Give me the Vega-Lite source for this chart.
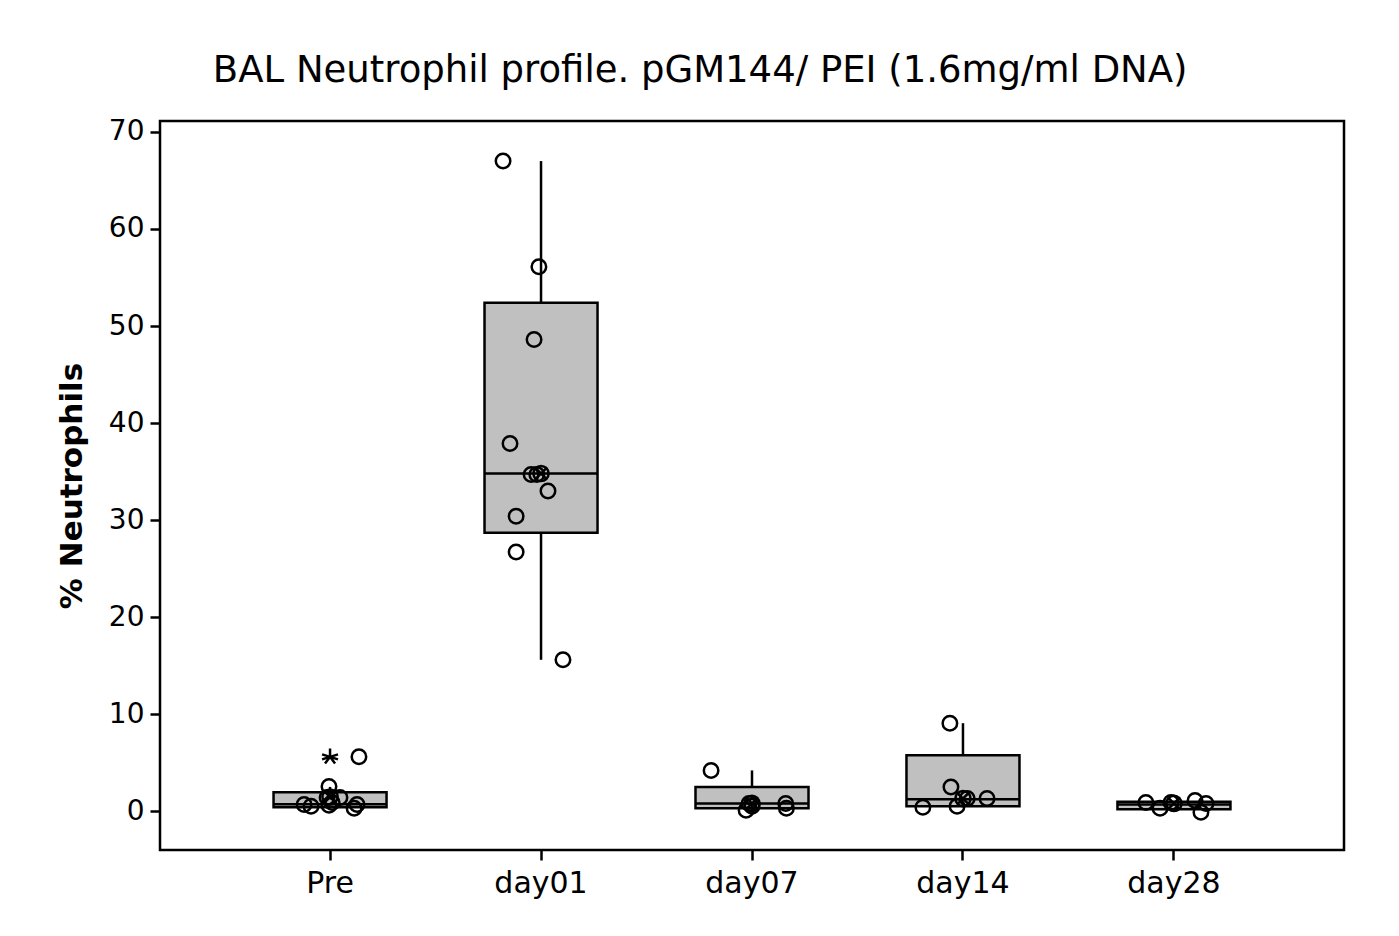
{
  "$schema": "https://vega.github.io/schema/vega-lite/v6.json",
  "autosize": {"type": "none"},
  "width": 1184,
  "height": 729,
  "padding": {"left": 160, "top": 121, "right": 55, "bottom": 86},
  "background": "white",
  "config": {
    "view": {"stroke": "black", "strokeWidth": 2.5},
    "font": "DejaVu Sans",
    "axis": {"grid": false, "domain": false, "tickColor": "black", "tickWidth": 2.5, "tickSize": 10, "labelColor": "black", "labelFontSize": 28, "labelFont": "DejaVu Sans", "titleColor": "black"}
  },
  "title": {"text": "BAL Neutrophil profile. pGM144/ PEI (1.6mg/ml DNA)", "fontSize": 37, "fontWeight": 500, "font": "DejaVu Sans", "color": "black", "anchor": "middle", "frame": "bounds", "offset": 28},
  "datasets": {
    "boxes": [
      {"cat": "Pre", "lo": 0.41, "q1": 0.41, "median": 0.72, "q3": 1.96, "hi": 2.5},
      {"cat": "day01", "lo": 15.6, "q1": 28.7, "median": 34.8, "q3": 52.4, "hi": 67.0},
      {"cat": "day07", "lo": 0.3, "q1": 0.3, "median": 0.8, "q3": 2.5, "hi": 4.2},
      {"cat": "day14", "lo": 0.5, "q1": 0.5, "median": 1.24, "q3": 5.77, "hi": 9.07},
      {"cat": "day28", "lo": 0.2, "q1": 0.2, "median": 0.7, "q3": 0.96, "hi": 0.96}
    ],
    "points": [
      {"cat": "Pre", "jitter": -0.123, "value": 0.7},
      {"cat": "Pre", "jitter": -0.09, "value": 0.5},
      {"cat": "Pre", "jitter": -0.005, "value": 2.55},
      {"cat": "Pre", "jitter": -0.014, "value": 1.4},
      {"cat": "Pre", "jitter": -0.005, "value": 0.6},
      {"cat": "Pre", "jitter": 0.01, "value": 0.9},
      {"cat": "Pre", "jitter": 0.047, "value": 1.4},
      {"cat": "Pre", "jitter": 0.114, "value": 0.3},
      {"cat": "Pre", "jitter": 0.128, "value": 0.7},
      {"cat": "Pre", "jitter": 0.137, "value": 5.6},
      {"cat": "day01", "jitter": -0.18, "value": 67.0},
      {"cat": "day01", "jitter": -0.01, "value": 56.1},
      {"cat": "day01", "jitter": -0.033, "value": 48.6},
      {"cat": "day01", "jitter": -0.147, "value": 37.9},
      {"cat": "day01", "jitter": -0.047, "value": 34.7},
      {"cat": "day01", "jitter": -0.02, "value": 34.7},
      {"cat": "day01", "jitter": 0.033, "value": 33.0},
      {"cat": "day01", "jitter": -0.118, "value": 30.4},
      {"cat": "day01", "jitter": -0.118, "value": 26.7},
      {"cat": "day01", "jitter": 0.104, "value": 15.6},
      {"cat": "day07", "jitter": -0.194, "value": 4.2},
      {"cat": "day07", "jitter": -0.014, "value": 0.8},
      {"cat": "day07", "jitter": -0.028, "value": 0.1},
      {"cat": "day07", "jitter": 0.0, "value": 0.5},
      {"cat": "day07", "jitter": 0.16, "value": 0.8},
      {"cat": "day07", "jitter": 0.163, "value": 0.3},
      {"cat": "day14", "jitter": -0.062, "value": 9.07},
      {"cat": "day14", "jitter": -0.057, "value": 2.5},
      {"cat": "day14", "jitter": -0.19, "value": 0.4},
      {"cat": "day14", "jitter": -0.028, "value": 0.5},
      {"cat": "day14", "jitter": 0.02, "value": 1.3},
      {"cat": "day14", "jitter": 0.114, "value": 1.3},
      {"cat": "day28", "jitter": -0.133, "value": 0.9},
      {"cat": "day28", "jitter": -0.066, "value": 0.3},
      {"cat": "day28", "jitter": -0.014, "value": 0.9},
      {"cat": "day28", "jitter": 0.1, "value": 1.1},
      {"cat": "day28", "jitter": 0.152, "value": 0.8},
      {"cat": "day28", "jitter": 0.128, "value": -0.1}
    ],
    "means": [
      {"cat": "Pre", "mean": 1.46},
      {"cat": "day01", "mean": 34.8},
      {"cat": "day07", "mean": 0.8},
      {"cat": "day14", "mean": 1.3},
      {"cat": "day28", "mean": 0.8}
    ],
    "outliers": [
      {"cat": "Pre", "value": 5.6}
    ]
  },
  "encoding": {
    "x": {"field": "cat", "type": "nominal", "sort": ["Pre", "day01", "day07", "day14", "day28"],
      "scale": {"domain": ["Pre", "day01", "day07", "day14", "day28"], "paddingInner": 0, "paddingOuter": 0.306},
      "axis": {"title": null, "labelAngle": 0, "labelPadding": 8, "labelFontSize": 30}}
  },
  "layer": [
    {
      "data": {"name": "boxes"},
      "mark": {"type": "rule", "color": "black", "strokeWidth": 2.5},
      "encoding": {
        "y": {"field": "q3", "type": "quantitative", "scale": {"domain": [-4.0, 71.13], "nice": false, "zero": false},
          "axis": {"title": "% Neutrophils", "values": [0, 10, 20, 30, 40, 50, 60, 70], "labelPadding": 6, "titleFontSize": 31, "titleFontWeight": "bold", "titlePadding": 20}},
        "y2": {"field": "hi"}
      }
    },
    {
      "data": {"name": "boxes"},
      "mark": {"type": "rule", "color": "black", "strokeWidth": 2.5},
      "encoding": {
        "y": {"field": "lo", "type": "quantitative"},
        "y2": {"field": "q1"}
      }
    },
    {
      "data": {"name": "boxes"},
      "mark": {"type": "bar", "fill": "#c0c0c0", "stroke": "black", "strokeWidth": 2.5, "size": 113},
      "encoding": {
        "y": {"field": "q1", "type": "quantitative"},
        "y2": {"field": "q3"}
      }
    },
    {
      "data": {"name": "boxes"},
      "mark": {"type": "tick", "color": "black", "thickness": 2.5, "size": 113, "opacity": 1},
      "encoding": {
        "y": {"field": "median", "type": "quantitative"}
      }
    },
    {
      "data": {"name": "points"},
      "mark": {"type": "point", "shape": "circle", "filled": false, "stroke": "black", "strokeWidth": 2.5, "size": 210, "opacity": 1},
      "encoding": {
        "xOffset": {"field": "jitter", "type": "quantitative", "scale": {"domain": [-0.5, 0.5]}},
        "y": {"field": "value", "type": "quantitative"}
      }
    },
    {
      "data": {"name": "means"},
      "mark": {"type": "point", "shape": "circle", "filled": false, "stroke": "black", "strokeWidth": 2.5, "size": 230, "opacity": 1},
      "encoding": {
        "y": {"field": "mean", "type": "quantitative"}
      }
    },
    {
      "data": {"name": "means"},
      "mark": {"type": "point", "shape": "M-0.8,-0.8L0.8,0.8M-0.8,0.8L0.8,-0.8", "filled": false, "stroke": "black", "strokeWidth": 2.5, "size": 230, "opacity": 1},
      "encoding": {
        "y": {"field": "mean", "type": "quantitative"}
      }
    },
    {
      "data": {"name": "outliers"},
      "mark": {"type": "point", "shape": "M0,-1L0,0M-0.95,-0.3L0.95,0.3M-0.95,0.3L0.95,-0.3M-0.6,0.8L0,0L0.6,0.8", "filled": false, "stroke": "black", "strokeWidth": 2.5, "size": 280, "opacity": 1},
      "encoding": {
        "y": {"field": "value", "type": "quantitative"}
      }
    }
  ]
}
